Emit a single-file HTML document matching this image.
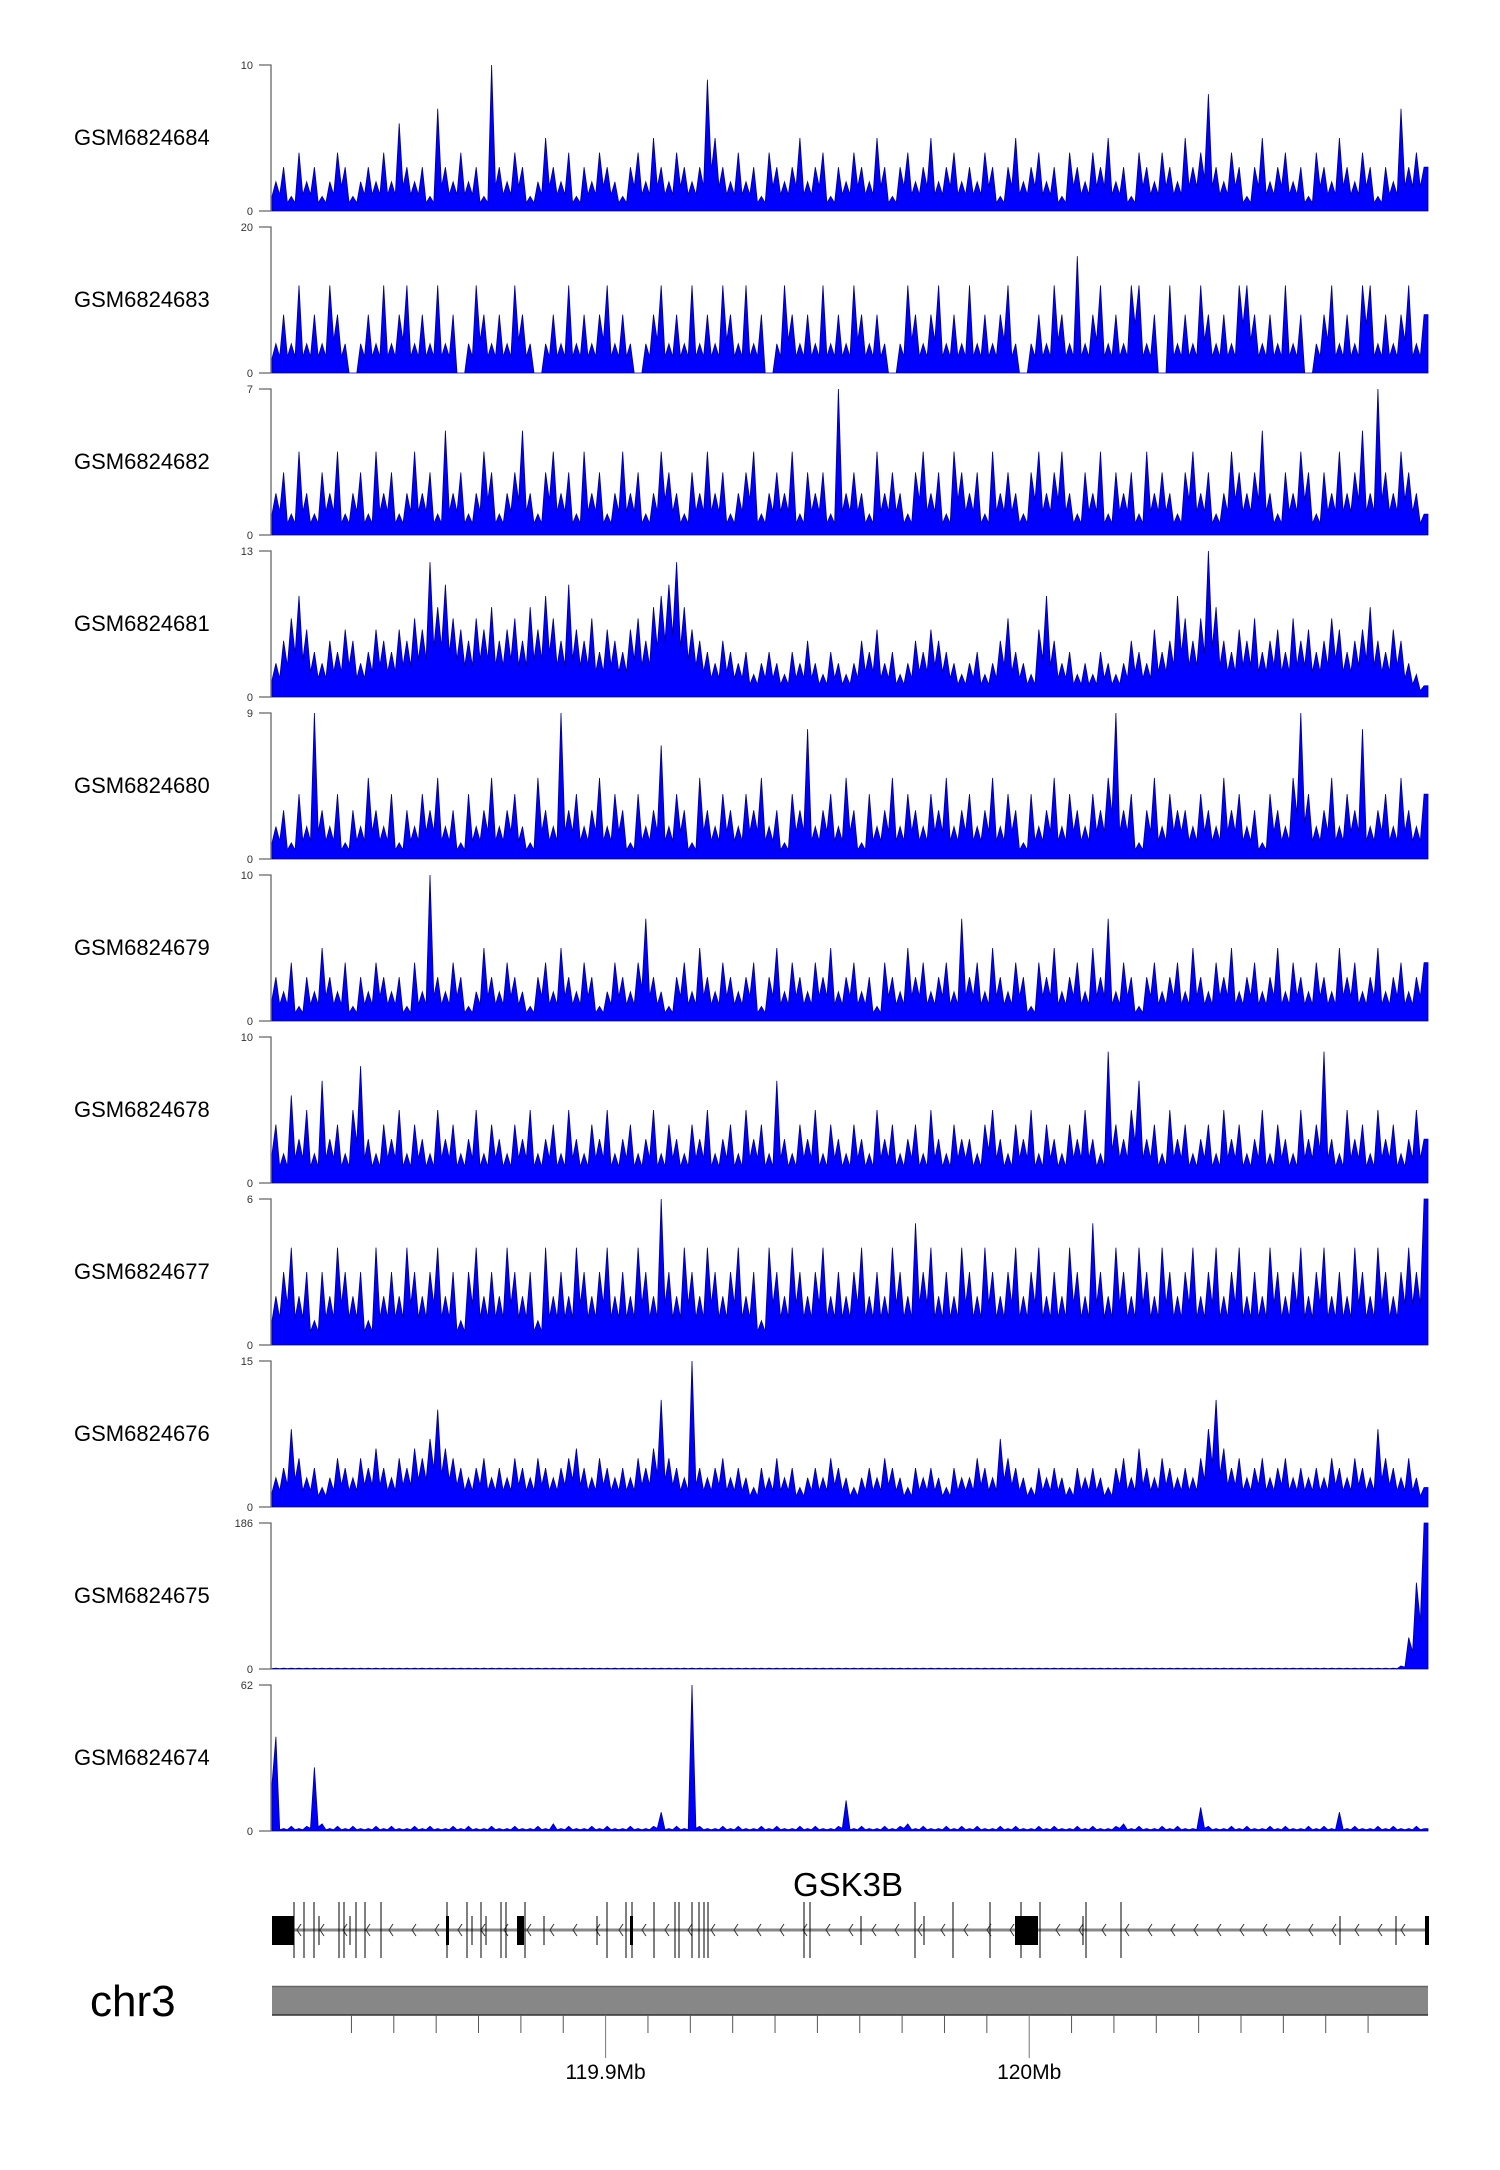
<!DOCTYPE html>
<html><head><meta charset="utf-8"><style>
html,body{margin:0;padding:0;background:#fff;}
svg{display:block;font-family:"Liberation Sans",sans-serif;}
</style></head><body>
<svg id="chart" width="1500" height="2170" viewBox="0 0 1500 2170" xmlns="http://www.w3.org/2000/svg"></svg>
<script>
const trackNames = ["GSM6824684","GSM6824683","GSM6824682","GSM6824681","GSM6824680","GSM6824679","GSM6824678","GSM6824677","GSM6824676","GSM6824675","GSM6824674"];
const trackMax = [10,20,7,13,9,10,10,6,15,186,62];
const t0 = [2,3,1,4,2,3,1,2,4,3,1,2,3,2,4, 2,6,3,2,3,1,7,3,2,4,2,3,1,10,3, 2,4,3,1,2,5,3,2,4,1,3,2,4,3,2, 1,3,4,2,5,3,2,4,3,2,3,9,5,3,2, 4,2,3,1,4,3,2,3,5,2,3,4,1,3,2, 4,3,2,5,3,1,3,4,2,3,5,2,3,4,2, 3,2,4,3,1,3,5,2,3,4,2,3,1,4,3, 2,4,3,5,2,3,1,4,3,2,4,3,2,5,3, 4,8,3,2,4,3,1,3,5,2,3,4,2,3,1, 4,3,2,5,3,2,4,3,1,3,2,7,3,4,3];
const t1 = [4,8,4,12,4,8,4,12,8,4,0,4,8,4,12, 4,8,12,4,8,4,12,4,8,0,4,12,8,4,8, 4,12,8,4,0,4,8,4,12,4,8,4,8,12,4, 8,4,0,4,8,12,4,8,4,12,4,8,4,12,8, 4,12,4,8,0,4,12,8,4,8,4,12,4,8,4, 12,8,4,8,4,0,4,12,8,4,8,12,4,8,4, 12,4,8,4,8,12,4,0,4,8,4,12,8,4,16, 4,8,12,4,8,4,12,12,4,8,0,12,4,8,4, 12,8,4,8,4,12,12,8,4,8,4,12,4,8,0, 4,8,12,4,8,4,12,12,4,8,4,8,12,4,8];
const t2 = [2,3,1,4,2,1,3,2,4,1,2,3,1,4,2, 3,1,2,4,2,3,1,5,2,3,1,2,4,3,1, 2,3,5,2,1,3,4,2,3,1,4,2,3,1,2, 4,2,3,1,2,4,3,2,1,3,2,4,2,3,1, 2,3,4,1,2,3,2,4,1,3,2,3,1,7,2, 3,2,1,4,2,3,2,1,3,4,2,3,1,4,3, 2,3,1,4,2,3,2,1,3,4,2,3,4,2,1, 3,2,4,1,3,2,3,1,4,2,3,2,1,3,4, 2,3,1,2,4,3,2,3,5,2,1,3,2,4,3, 1,3,2,4,2,3,5,2,7,3,2,4,3,2,1];
const t3 = [3,5,7,9,6,4,3,5,4,6,5,3,4,6,5, 4,6,5,7,6,12,8,10,7,6,5,7,6,8,5, 6,7,5,8,6,9,7,5,10,6,5,7,4,6,5, 4,6,7,5,8,9,10,12,8,6,5,4,3,5,4, 3,4,2,3,4,3,2,4,3,5,3,2,4,3,2, 3,5,4,6,3,4,2,3,5,4,6,5,4,3,2, 3,4,2,3,5,7,4,3,2,6,9,5,3,4,2, 3,2,4,3,2,3,5,4,3,6,4,5,9,7,5, 7,13,8,5,4,6,5,7,4,5,6,4,7,5,6, 4,5,7,6,4,5,6,8,5,4,6,5,3,2,1];
const t4 = [2,3,1,4,2,9,3,2,4,1,3,2,5,3,2, 4,1,3,2,4,3,5,2,3,1,4,2,3,5,2, 3,4,2,1,5,3,2,9,3,4,2,3,5,2,4, 3,1,4,2,3,7,2,4,3,1,5,3,2,4,3, 2,4,3,5,2,3,1,4,3,8,2,3,4,2,5, 3,1,4,2,3,5,2,4,3,2,4,3,5,2,3, 4,2,3,5,2,4,3,1,4,2,3,5,2,4,3, 2,4,3,5,9,3,4,1,3,5,2,4,3,3,2, 4,3,2,5,3,4,2,3,1,4,3,2,5,9,4, 2,3,5,2,4,3,8,2,3,4,2,5,3,2,4];
const t5 = [3,2,4,1,3,2,5,3,2,4,1,3,2,4,3, 2,3,1,4,2,10,3,2,4,3,1,2,5,3,2, 4,3,2,1,3,4,2,5,3,2,4,3,1,2,4, 3,2,4,7,3,2,1,3,4,2,5,3,2,4,3, 2,3,4,1,3,5,2,4,3,2,4,3,5,2,3, 4,2,3,1,4,3,2,5,3,4,2,3,4,2,7, 3,4,2,5,3,2,4,3,1,4,3,5,2,3,4, 2,5,3,7,2,4,3,1,3,4,2,3,4,2,5, 3,2,4,3,5,2,3,4,2,3,5,2,4,3,2, 4,3,2,5,3,4,2,3,5,2,3,4,2,3,4];
const t6 = [4,2,6,3,5,2,7,3,4,2,5,8,3,2,4, 3,5,2,4,3,2,5,3,4,2,3,5,2,4,3, 2,4,3,5,2,3,4,2,5,3,2,4,3,5,2, 3,4,2,3,5,2,4,3,2,4,3,5,2,3,4, 2,5,3,4,2,7,3,2,4,3,5,2,4,3,2, 4,3,2,5,3,4,2,3,4,2,5,3,2,4,3, 3,2,4,5,3,2,4,3,5,2,4,3,2,4,3, 5,3,2,9,4,3,5,7,3,4,2,5,3,4,2, 3,4,2,5,3,4,2,3,5,2,4,3,2,5,3, 4,9,3,2,5,3,4,2,5,3,4,2,3,5,3];
const t7 = [2,3,4,2,3,1,3,2,4,3,2,3,1,4,2, 3,2,4,3,2,3,4,2,3,1,3,4,2,3,2, 4,3,2,3,1,4,2,3,2,4,3,2,3,4,2, 3,2,4,3,2,6,3,2,4,3,2,4,3,2,3, 4,2,3,1,4,3,2,4,3,2,3,4,2,3,2, 3,4,2,3,2,4,3,2,5,3,4,2,3,2,4, 3,2,4,3,2,3,4,2,3,4,2,3,2,4,3, 2,5,3,2,4,3,2,4,3,2,4,3,2,3,4, 2,3,4,2,3,4,2,3,2,4,3,2,3,4,2, 3,4,2,3,2,4,3,2,4,3,2,3,4,3,6];
const t8 = [3,4,8,5,3,4,2,3,5,4,3,5,4,6,4, 3,5,4,6,5,7,10,6,5,4,3,4,5,3,4, 3,5,4,3,5,4,3,4,5,6,4,3,5,4,3, 4,3,5,4,6,11,5,4,3,15,4,3,4,5,3, 4,3,2,4,3,5,3,4,2,3,4,3,5,4,3, 2,3,4,3,5,4,3,2,4,3,4,3,2,4,3, 3,5,4,3,7,5,4,3,2,4,3,4,3,2,4, 3,4,3,2,4,5,3,6,4,3,5,4,3,4,3, 5,8,11,6,4,5,3,4,5,3,4,5,3,4,3, 4,3,5,4,3,5,4,3,8,5,4,3,5,3,2];
const t9 = [1,1,1,1,1,1,1,1,1,1,1,1,1,1,1, 1,1,1,1,1,1,1,1,1,1,1,1,1,1,1, 1,1,1,1,1,1,1,1,1,1,1,1,1,1,1, 1,1,1,1,1,1,1,1,1,1,1,1,1,1,1, 1,1,1,1,1,1,1,1,1,1,1,1,1,1,1, 1,1,1,1,1,1,1,1,1,1,1,1,1,1,1, 1,1,1,1,1,1,1,1,1,1,1,1,1,1,1, 1,1,1,1,1,1,1,1,1,1,1,1,1,1,1, 1,1,1,1,1,1,1,1,1,1,1,1,1,1,1, 1,1,1,1,1,1,1,1,1,1,1,4,40,110,186];
const t10 = [40,1,2,1,2,27,3,1,2,1,2,1,1,2,1, 2,1,1,2,1,2,1,1,2,1,2,1,1,2,1, 1,2,1,1,2,1,3,1,2,1,1,2,1,2,1, 1,2,1,1,2,8,1,2,1,62,2,1,1,2,1, 2,1,1,2,1,2,1,1,2,1,2,1,1,2,13, 1,2,1,1,2,1,2,3,1,2,1,1,2,1,2, 1,2,1,1,2,1,2,1,1,2,1,2,1,1,2, 1,2,1,1,2,3,1,2,1,1,2,1,2,1,1, 10,2,1,1,2,1,2,1,1,2,1,2,1,1,2, 1,2,1,8,1,2,1,1,2,1,2,1,1,2,1];
const trackValues = [t0,t1,t2,t3,t4,t5,t6,t7,t8,t9,t10];
const axisTickMb = [119.84,119.85,119.86,119.87,119.88,119.89,119.9,119.91,119.92,119.93,119.94,119.95,119.96,119.97,119.98,119.99,120.0,120.01,120.02,120.03,120.04,120.05,120.06,120.07,120.08];
const axisLabels = ["119.9Mb","120Mb"];
const axisLabelMb = [119.9,120.0];
const exonPx = [[272,294],[446,449],[517,524],[630,633],[1015,1038],[1425,1429]];
const tallLinePx = [294,304,314,339,344,356,365,381,447,467,481,501,506,525,607,626,632,654,675,679,692,699,704,708,804,810,915,953,990,1021,1040,1086,1121];
const shortLinePx = [319,350,472,486,544,597,861,924,1083,1340,1396];

const svg = document.getElementById('chart');
const NS = 'http://www.w3.org/2000/svg';
const X0 = 272, X1 = 1428;
function mk(tag, attrs){ const e=document.createElementNS(NS,tag); for(const k in attrs) e.setAttribute(k,attrs[k]); svg.appendChild(e); return e; }
function xMb(mb){ return 605.6 + (mb-119.9)*4236; }

trackNames.forEach((name, ti) => {
  const top = 65 + 162*ti, bot = 211 + 162*ti;
  const vals = trackValues[ti], max = trackMax[ti], n = vals.length;
  const xb = i => X0 + (i+0.5)*(X1-X0)/n;
  const yv = v => bot - (v/max)*(bot-top);
  const lbl = mk('text',{x:74,y:top+80,'font-size':22,fill:'#000'});
  lbl.textContent = name;
  
  
  let d = 'M'+X0+','+bot+' L'+X0+','+yv(vals[0]*0.5);
  for(let i=0;i<n;i++){
    d += ' L'+xb(i).toFixed(1)+','+yv(vals[i]).toFixed(1);
    if(i<n-1){ const m = Math.min(vals[i],vals[i+1])*0.55; d += ' L'+(xb(i)+(X1-X0)/n/2).toFixed(1)+','+yv(m).toFixed(1); }
  }
  d += ' L'+X1+','+yv(vals[n-1])+' L'+X1+','+bot+' Z';
  const area = mk('path',{d:d,fill:'#0000ff',stroke:'#00008b','stroke-width':0.8});
  
  
  const ax = mk('path',{d:'M259,'+top+' H271 V'+bot+' H259',fill:'none',stroke:'#666','stroke-width':1.3});
  
  
  const tt = mk('text',{x:253,y:top+4,'font-size':11,'text-anchor':'end',fill:'#333'});
  tt.textContent = String(max);
  
  
  const tb = mk('text',{x:253,y:bot+4,'font-size':11,'text-anchor':'end',fill:'#333'});
  tb.textContent = '0';
  
  
});

// gene track
const gname = mk('text',{x:848,y:1896,'font-size':33,'text-anchor':'middle',fill:'#000'});
gname.textContent = 'GSK3B';


const gl = mk('line',{x1:X0,y1:1930,x2:X1,y2:1930,stroke:'#888','stroke-width':3});


for(let x=X0+25;x<X1-5;x+=23){
  const c = mk('path',{d:'M'+(x+4)+',1924 L'+x+',1930 L'+(x+4)+',1936',fill:'none',stroke:'#333','stroke-width':1});
  
  
}
tallLinePx.forEach(x => {
  const l = mk('line',{x1:x,y1:1902,x2:x,y2:1958,stroke:'#000','stroke-width':1});
  
  
});
shortLinePx.forEach(x => {
  const l = mk('line',{x1:x,y1:1916,x2:x,y2:1945,stroke:'#000','stroke-width':1});
  
  
});
exonPx.forEach(e => {
  const r = mk('rect',{x:e[0],y:1916,width:e[1]-e[0],height:29,fill:'#000'});
  
  
});

// chromosome
const chr = mk('text',{x:90,y:2016,'font-size':44,fill:'#000'});
chr.textContent = 'chr3';


const bar = mk('rect',{x:X0,y:1986,width:X1-X0,height:29,fill:'#878787'});


mk('line',{x1:X0,y1:1986.5,x2:X1,y2:1986.5,stroke:'#666','stroke-width':1.5});
const bl = mk('line',{x1:X0,y1:2015,x2:X1,y2:2015,stroke:'#333','stroke-width':1.5});


axisTickMb.forEach(mb => {
  const x = xMb(mb);
  if(x < X0 + 30 || x > X1 - 10) return;
  const major = axisLabelMb.some(v => Math.abs(v-mb)<1e-6);
  const t = mk('line',{x1:x,y1:2015,x2:x,y2:major?2058:2033,stroke:major?'#777':'#555','stroke-width':1});
  
  
});
axisLabels.forEach((s,i) => {
  const t = mk('text',{x:xMb(axisLabelMb[i]),y:2079,'font-size':21,'text-anchor':'middle',fill:'#000'});
  t.textContent = s;
  
  
});
</script>
</body></html>
